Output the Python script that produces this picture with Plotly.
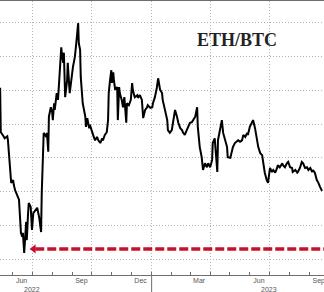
import plotly.graph_objects as go

dates = [
    "2022-05-13", "2022-05-14", "2022-05-17", "2022-05-20", "2022-05-24", "2022-05-25", "2022-05-30",
    "2022-06-02", "2022-06-03", "2022-06-05", "2022-06-08", "2022-06-09", "2022-06-11", "2022-06-14",
    "2022-06-16", "2022-06-17", "2022-06-19", "2022-06-22", "2022-06-23", "2022-06-25", "2022-06-26",
    "2022-06-29", "2022-07-01", "2022-07-03", "2022-07-06", "2022-07-09", "2022-07-12", "2022-07-15",
    "2022-07-16", "2022-07-18", "2022-07-19", "2022-07-23", "2022-07-24", "2022-07-26", "2022-07-27",
    "2022-07-30", "2022-08-01", "2022-08-02", "2022-08-04", "2022-08-05", "2022-08-08", "2022-08-10",
    "2022-08-12", "2022-08-15", "2022-08-16", "2022-08-18", "2022-08-19", "2022-08-21", "2022-08-24",
    "2022-08-25", "2022-08-28", "2022-09-01", "2022-09-02", "2022-09-04", "2022-09-05", "2022-09-08",
    "2022-09-10", "2022-09-11", "2022-09-13", "2022-09-14", "2022-09-17", "2022-09-21", "2022-09-22",
    "2022-09-24", "2022-09-27", "2022-09-28", "2022-10-01", "2022-10-03", "2022-10-06", "2022-10-09",
    "2022-10-11", "2022-10-14", "2022-10-17", "2022-10-18", "2022-10-21", "2022-10-24", "2022-10-26",
    "2022-10-27", "2022-10-29", "2022-10-31", "2022-11-01", "2022-11-03", "2022-11-04", "2022-11-06",
    "2022-11-09", "2022-11-10", "2022-11-12", "2022-11-13", "2022-11-16", "2022-11-18", "2022-11-20",
    "2022-11-23", "2022-11-24", "2022-11-27", "2022-11-30", "2022-12-02", "2022-12-03", "2022-12-06",
    "2022-12-10", "2022-12-11", "2022-12-14", "2022-12-17", "2022-12-19", "2022-12-22", "2022-12-25",
    "2022-12-26", "2022-12-30", "2023-01-02", "2023-01-03", "2023-01-06", "2023-01-09", "2023-01-11",
    "2023-01-14", "2023-01-17", "2023-01-18", "2023-01-22", "2023-01-25", "2023-01-26", "2023-01-29",
    "2023-02-01", "2023-02-03", "2023-02-06", "2023-02-09", "2023-02-11", "2023-02-14", "2023-02-17",
    "2023-02-18", "2023-02-21", "2023-02-24", "2023-02-26", "2023-03-01", "2023-03-04", "2023-03-06",
    "2023-03-09", "2023-03-12", "2023-03-13", "2023-03-16", "2023-03-19", "2023-03-21", "2023-03-24",
    "2023-03-27", "2023-03-29", "2023-04-01", "2023-04-04", "2023-04-05", "2023-04-08", "2023-04-12",
    "2023-04-13", "2023-04-16", "2023-04-19", "2023-04-21", "2023-04-24", "2023-04-27", "2023-04-28",
    "2023-05-02", "2023-05-05", "2023-05-06", "2023-05-09", "2023-05-12", "2023-05-14", "2023-05-17",
    "2023-05-20", "2023-05-22", "2023-05-25", "2023-05-28", "2023-05-29", "2023-06-01", "2023-06-04",
    "2023-06-06", "2023-06-09", "2023-06-12", "2023-06-14", "2023-06-17", "2023-06-20", "2023-06-21",
    "2023-06-24", "2023-06-27", "2023-06-29", "2023-07-02", "2023-07-05", "2023-07-07", "2023-07-10",
    "2023-07-13", "2023-07-14", "2023-07-17", "2023-07-21", "2023-07-22", "2023-07-25", "2023-07-28",
    "2023-07-30", "2023-08-02", "2023-08-05", "2023-08-06", "2023-08-10", "2023-08-13", "2023-08-14",
    "2023-08-17", "2023-08-20", "2023-08-22", "2023-08-25", "2023-08-28", "2023-08-30", "2023-09-02",
    "2023-09-05", "2023-09-06", "2023-09-09", "2023-09-12", "2023-09-14", "2023-09-17", "2023-09-20",
]

eth_btc = [
    0.0754, 0.0688, 0.0684, 0.0679, 0.0682, 0.0676, 0.0613,
    0.0617, 0.0610, 0.0602, 0.0595, 0.0592, 0.0588, 0.0539,
    0.0533, 0.0539, 0.0509, 0.0555, 0.0528, 0.0568, 0.0583,
    0.0577, 0.0543, 0.0568, 0.0573, 0.0576, 0.0562, 0.0540,
    0.0598, 0.0651, 0.0687, 0.0681, 0.0687, 0.0659, 0.0711,
    0.0725, 0.0718, 0.0706, 0.0731, 0.0721, 0.0746, 0.0736,
    0.0765, 0.0814, 0.0803, 0.0791, 0.0806, 0.0740, 0.0765,
    0.0791, 0.0746, 0.0780, 0.0785, 0.0795, 0.0800, 0.0829,
    0.0850, 0.0820, 0.0810, 0.0770, 0.0731, 0.0711, 0.0696,
    0.0709, 0.0694, 0.0699, 0.0688, 0.0684, 0.0676, 0.0681,
    0.0676, 0.0672, 0.0679, 0.0676, 0.0684, 0.0688, 0.0706,
    0.0746, 0.0765, 0.0780, 0.0761, 0.0777, 0.0765, 0.0751,
    0.0755, 0.0706, 0.0755, 0.0746, 0.0736, 0.0725, 0.0740,
    0.0702, 0.0731, 0.0728, 0.0736, 0.0761, 0.0751, 0.0740,
    0.0743, 0.0739, 0.0743, 0.0736, 0.0709, 0.0721, 0.0725,
    0.0728, 0.0724, 0.0725, 0.0731, 0.0740, 0.0754, 0.0768,
    0.0751, 0.0746, 0.0736, 0.0717, 0.0706, 0.0691, 0.0687,
    0.0691, 0.0702, 0.0721, 0.0711, 0.0702, 0.0694, 0.0691,
    0.0688, 0.0684, 0.0691, 0.0696, 0.0702, 0.0703, 0.0706,
    0.0711, 0.0725, 0.0696, 0.0666, 0.0651, 0.0632, 0.0642,
    0.0636, 0.0642, 0.0636, 0.0647, 0.0672, 0.0679, 0.0629,
    0.0676, 0.0691, 0.0706, 0.0687, 0.0676, 0.0666, 0.0651,
    0.0650, 0.0662, 0.0666, 0.0672, 0.0674, 0.0676, 0.0674,
    0.0676, 0.0684, 0.0681, 0.0687, 0.0684, 0.0696, 0.0703,
    0.0706, 0.0694, 0.0679, 0.0666, 0.0657, 0.0654, 0.0647,
    0.0628, 0.0617, 0.0613, 0.0635, 0.0629, 0.0632, 0.0628,
    0.0635, 0.0639, 0.0636, 0.0642, 0.0639, 0.0636, 0.0642,
    0.0644, 0.0636, 0.0635, 0.0629, 0.0632, 0.0628, 0.0629,
    0.0635, 0.0644, 0.0642, 0.0635, 0.0636, 0.0632, 0.0635,
    0.0629, 0.0632, 0.0628, 0.0617, 0.0614, 0.0607, 0.0601,
]

# reference arrow marking the June 2022 low
arrow_level = 0.0515
arrow_tip_date = "2022-07-03 12:00"
arrow_line_dates = ["2022-07-06", "2023-09-24"]

# axis ticks / labels
x_range = ["2022-05-12 19:00", "2023-09-23 02:00"]
y_range = [0.04763, 0.08826]
y_grid = [0.050, 0.055, 0.060, 0.065, 0.070, 0.075, 0.080, 0.085]
quarter_starts = ["2022-07-01", "2022-10-01", "2023-01-01", "2023-04-01", "2023-07-01", "2023-10-01"]
month_starts = ["2022-06-01", "2022-08-01", "2022-09-01", "2022-11-01", "2022-12-01",
                "2023-02-01", "2023-03-01", "2023-05-01", "2023-06-01", "2023-08-01", "2023-09-01"]
label_dates = ["2022-06-15", "2022-09-15", "2022-12-15", "2023-03-15", "2023-06-15", "2023-09-15"]
label_text = ["Jun", "Sep", "Dec", "Mar", "Jun", "Sep"]
year_dates = ["2022-07-01", "2023-07-01"]
year_text = ["2022", "2023"]
year_break = "2023-01-01"

AX = "#6e6e6e"
GRID = "#b4b4b4"
TICKFONT = dict(family="Liberation Sans, Arial, sans-serif", size=7, color="#555555")

fig = go.Figure()
fig.add_trace(go.Scatter(x=dates, y=eth_btc, mode="lines",
                         line=dict(color="#000000", width=2), hoverinfo="skip", showlegend=False))
fig.add_trace(go.Scatter(x=arrow_line_dates, y=[arrow_level, arrow_level], mode="lines",
                         line=dict(color="#c8102e", width=3.5, dash="9px,3px"),
                         hoverinfo="skip", showlegend=False))
fig.add_trace(go.Scatter(x=[arrow_tip_date], y=[arrow_level], mode="markers",
                         marker=dict(symbol="triangle-left", size=8, color="#c8102e", line=dict(width=0)),
                         hoverinfo="skip", showlegend=False))
# invisible carrier so the label axis (x2) is drawn
fig.add_trace(go.Scatter(x=dates[:1], y=eth_btc[:1], xaxis="x2", yaxis="y", mode="markers",
                         marker=dict(opacity=0), hoverinfo="skip", showlegend=False))

fig.update_layout(
    width=324, height=292,
    margin=dict(l=0, r=0, t=1, b=17),
    paper_bgcolor="white", plot_bgcolor="white",
    xaxis=dict(type="date", range=x_range, tickmode="array", tickvals=quarter_starts,
               ticktext=[""] * len(quarter_starts),
               showgrid=True, gridcolor=GRID, griddash="1px,2px", gridwidth=1,
               ticks="inside", ticklen=3, tickcolor=AX, tickwidth=1,
               showline=True, linecolor=AX, linewidth=1, mirror=True, zeroline=False,
               minor=dict(tickmode="array", tickvals=month_starts, ticks="inside", ticklen=3,
                          tickcolor=AX, tickwidth=1, showgrid=False)),
    xaxis2=dict(type="date", range=x_range, overlaying="x", anchor="y", side="bottom",
                tickmode="array", tickvals=label_dates, ticktext=label_text,
                showgrid=False, ticks="", showline=False, zeroline=False,
                ticklabeloverflow="allow", tickfont=TICKFONT),
    yaxis=dict(range=y_range, tickmode="array", tickvals=y_grid, showticklabels=False,
               showgrid=True, gridcolor=GRID, griddash="1px,2px", gridwidth=1,
               zeroline=False, showline=False, ticks=""),
)

# year labels
for d, t in zip(year_dates, year_text):
    fig.add_annotation(x=d, xref="x", y=-0.0515, yref="paper", text=t, showarrow=False,
                       font=TICKFONT, xanchor="center", yanchor="middle")

# year separator tick
fig.add_shape(type="line", x0=year_break, x1=year_break, xref="x", y0=0, y1=-0.07, yref="paper",
              line=dict(color=AX, width=1))

# title
fig.add_annotation(x=0.731, xref="paper", y=0.858, yref="paper", text="<b>ETH/BTC</b>",
                   showarrow=False, font=dict(family="Liberation Serif, Times New Roman, serif",
                                              size=18, color="#222222"),
                   xanchor="center", yanchor="middle")

fig.write_html("out.html")
